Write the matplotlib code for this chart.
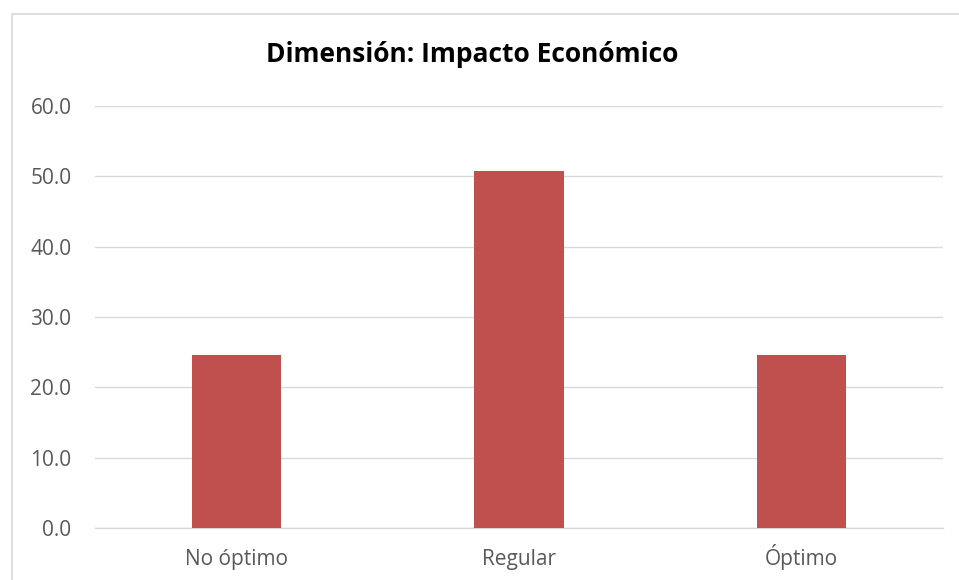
import matplotlib
matplotlib.use("Agg")
import matplotlib.pyplot as plt
from matplotlib.patches import Rectangle

categories = ["No óptimo", "Regular", "Óptimo"]
values = [24.6, 50.8, 24.6]
yticks = [0, 10, 20, 30, 40, 50, 60]

plt.rcParams['font.family'] = ['Open Sans', 'DejaVu Sans']

W, H = 959, 580
fig = plt.figure(figsize=(W/100, H/100), dpi=100)
fig.patches.append(Rectangle((12/W, -0.1), 1.2, 1.1 - 14/H + 0.0, transform=fig.transFigure,
                             fill=False, edgecolor='#D9D9D9', linewidth=1.2))
ax = fig.add_axes([95/W, 1-528/H, (943-95)/W, (528-106)/H])
x = range(len(categories))
ax.bar(x, values, width=0.315, color='#C0504D', zorder=3)
ax.set_xlim(-0.5, 2.5)
ax.set_ylim(0, 60)
ax.set_yticks(yticks)
ax.set_yticklabels([f"{v:.1f}" for v in yticks])
ax.set_xticks(list(x))
ax.set_xticklabels(categories, va='baseline')
ax.grid(axis='y', color='#D9D9D9', linewidth=1, zorder=0)
for s in ['top', 'right', 'left']:
    ax.spines[s].set_visible(False)
ax.spines['bottom'].set_color('#D9D9D9')
ax.spines['bottom'].set_linewidth(1)
ax.tick_params(axis='both', length=0, labelsize=15, colors='#595959')
ax.tick_params(axis='y', pad=17)
ax.tick_params(axis='x', pad=27)
fig.text(472/W, 1-62/H, "Dimensión: Impacto Económico", ha='center', va='baseline',
         fontsize=19, fontweight='bold', color='black')
fig.savefig("out.png", dpi=100)
